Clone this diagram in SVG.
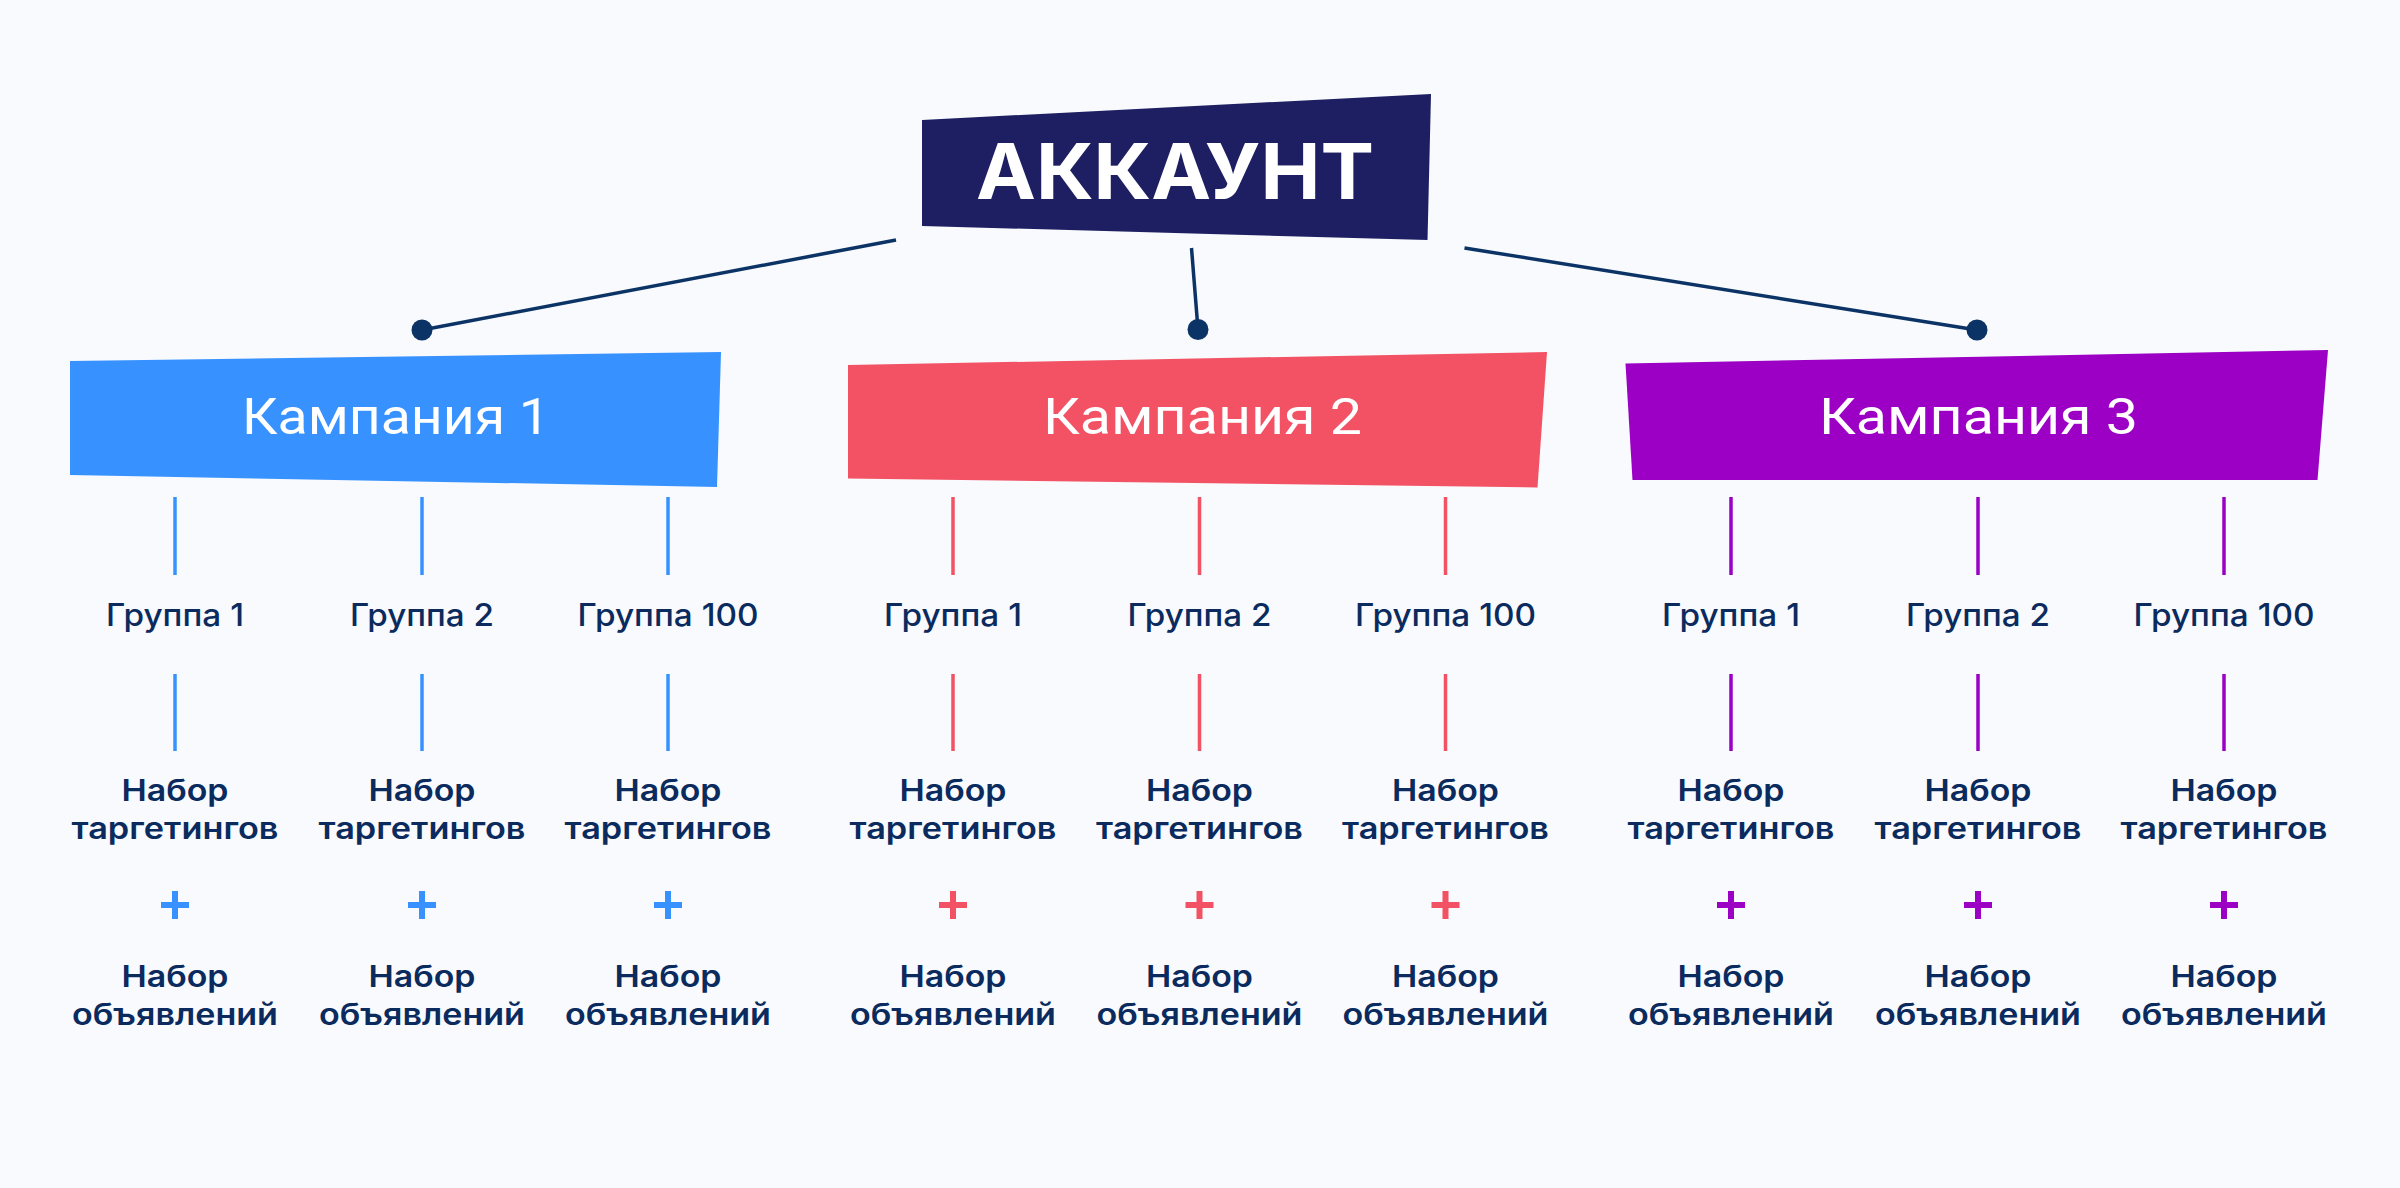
<svg xmlns="http://www.w3.org/2000/svg" width="2400" height="1188" viewBox="0 0 2400 1188">
<defs>
<style>
.bg{fill:#F8FAFD}
.acc{fill:#1E1F62}
.acc-t{font-family:Inter,"Open Sans","Liberation Sans",sans-serif;font-weight:700;font-size:77px;fill:#FFFFFF;text-anchor:middle}
.camp-t{font-family:Roboto,"Liberation Sans",sans-serif;font-weight:400;font-size:50px;fill:#FFFFFF;text-anchor:middle}
.grp{font-family:Inter,"Open Sans","Liberation Sans",sans-serif;font-weight:500;font-size:31px;fill:#0B2B5E;text-anchor:middle}
.set{font-family:Inter,"Open Sans","Liberation Sans",sans-serif;font-weight:600;font-size:30px;fill:#0B2B5E;text-anchor:middle}
.link{stroke:#0C3366;stroke-width:3.5;fill:none}
.dot{fill:#0C3366}
.vb{stroke:#3792FF;stroke-width:3.5}
.vr{stroke:#F25263;stroke-width:3.5}
.vp{stroke:#9B00C4;stroke-width:3.5}
.pb{stroke:#3792FF;stroke-width:6;fill:none}
.pr{stroke:#F25263;stroke-width:6;fill:none}
.pp{stroke:#9B00C4;stroke-width:6;fill:none}
</style>
</defs>
<rect class="bg" x="0" y="0" width="2400" height="1188"/>

<g id="account">
<polygon class="acc" points="922,120 1431,94 1427.5,240 922,226"/>
<text class="acc-t" x="1175" y="199" textLength="398" lengthAdjust="spacingAndGlyphs">АККАУНТ</text>
</g>

<g id="campaign-1">
<polygon fill="#3792FF" points="70,361 721,352 717,487 70,475"/>
<text class="camp-t" x="396" y="434.3" textLength="308" lengthAdjust="spacingAndGlyphs">Кампания 1</text>
</g>
<g id="campaign-2">
<polygon fill="#F25263" points="848,365 1547,352 1537.5,487.5 848,478.5"/>
<text class="camp-t" x="1202.5" y="434.3" textLength="319" lengthAdjust="spacingAndGlyphs">Кампания 2</text>
</g>
<g id="campaign-3">
<polygon fill="#9B00C4" points="1625.5,363.5 2328,350 2317.5,480 1632.5,480"/>
<text class="camp-t" x="1978.5" y="434.3" textLength="319" lengthAdjust="spacingAndGlyphs">Кампания 3</text>
</g>

<g id="connectors">
<line class="link" x1="896" y1="240" x2="422" y2="330"/>
<circle class="dot" cx="422" cy="330" r="10.5"/>
<line class="link" x1="1191.5" y1="248" x2="1198" y2="329.5"/>
<circle class="dot" cx="1198" cy="329.5" r="10.5"/>
<line class="link" x1="1464.5" y1="248" x2="1977" y2="330"/>
<circle class="dot" cx="1977" cy="330" r="10.5"/>

<g class="vb">
<line x1="175" y1="497" x2="175" y2="575"/><line x1="175" y1="674" x2="175" y2="751"/>
<line x1="422" y1="497" x2="422" y2="575"/><line x1="422" y1="674" x2="422" y2="751"/>
<line x1="668" y1="497" x2="668" y2="575"/><line x1="668" y1="674" x2="668" y2="751"/>
</g>
<g class="vr">
<line x1="953" y1="497" x2="953" y2="575"/><line x1="953" y1="674" x2="953" y2="751"/>
<line x1="1199.5" y1="497" x2="1199.5" y2="575"/><line x1="1199.5" y1="674" x2="1199.5" y2="751"/>
<line x1="1445.5" y1="497" x2="1445.5" y2="575"/><line x1="1445.5" y1="674" x2="1445.5" y2="751"/>
</g>
<g class="vp">
<line x1="1731" y1="497" x2="1731" y2="575"/><line x1="1731" y1="674" x2="1731" y2="751"/>
<line x1="1978" y1="497" x2="1978" y2="575"/><line x1="1978" y1="674" x2="1978" y2="751"/>
<line x1="2224" y1="497" x2="2224" y2="575"/><line x1="2224" y1="674" x2="2224" y2="751"/>
</g>
</g>

<g id="group-1-1"><text class="grp" x="175" y="626.4" textLength="138" lengthAdjust="spacingAndGlyphs">Группа 1</text></g>
<g id="group-1-2"><text class="grp" x="422" y="626.4" textLength="144" lengthAdjust="spacingAndGlyphs">Группа 2</text></g>
<g id="group-1-100"><text class="grp" x="668" y="626.4" textLength="181" lengthAdjust="spacingAndGlyphs">Группа 100</text></g>
<g id="group-2-1"><text class="grp" x="953" y="626.4" textLength="138" lengthAdjust="spacingAndGlyphs">Группа 1</text></g>
<g id="group-2-2"><text class="grp" x="1199.5" y="626.4" textLength="144" lengthAdjust="spacingAndGlyphs">Группа 2</text></g>
<g id="group-2-100"><text class="grp" x="1445.5" y="626.4" textLength="181" lengthAdjust="spacingAndGlyphs">Группа 100</text></g>
<g id="group-3-1"><text class="grp" x="1731" y="626.4" textLength="138" lengthAdjust="spacingAndGlyphs">Группа 1</text></g>
<g id="group-3-2"><text class="grp" x="1978" y="626.4" textLength="144" lengthAdjust="spacingAndGlyphs">Группа 2</text></g>
<g id="group-3-100"><text class="grp" x="2224" y="626.4" textLength="181" lengthAdjust="spacingAndGlyphs">Группа 100</text></g>

<g id="set-1-1">
<text class="set" x="175" y="801.4" textLength="107" lengthAdjust="spacingAndGlyphs">Набор</text>
<text class="set" x="175" y="838.9" textLength="207" lengthAdjust="spacingAndGlyphs">таргетингов</text>
<path class="pb" d="M161,905 h28 M175,891 v28"/>
<text class="set" x="175" y="987.1" textLength="107" lengthAdjust="spacingAndGlyphs">Набор</text>
<text class="set" x="175" y="1024.6" textLength="206" lengthAdjust="spacingAndGlyphs">объявлений</text>
</g>
<g id="set-1-2">
<text class="set" x="422" y="801.4" textLength="107" lengthAdjust="spacingAndGlyphs">Набор</text>
<text class="set" x="422" y="838.9" textLength="207" lengthAdjust="spacingAndGlyphs">таргетингов</text>
<path class="pb" d="M408,905 h28 M422,891 v28"/>
<text class="set" x="422" y="987.1" textLength="107" lengthAdjust="spacingAndGlyphs">Набор</text>
<text class="set" x="422" y="1024.6" textLength="206" lengthAdjust="spacingAndGlyphs">объявлений</text>
</g>
<g id="set-1-100">
<text class="set" x="668" y="801.4" textLength="107" lengthAdjust="spacingAndGlyphs">Набор</text>
<text class="set" x="668" y="838.9" textLength="207" lengthAdjust="spacingAndGlyphs">таргетингов</text>
<path class="pb" d="M654,905 h28 M668,891 v28"/>
<text class="set" x="668" y="987.1" textLength="107" lengthAdjust="spacingAndGlyphs">Набор</text>
<text class="set" x="668" y="1024.6" textLength="206" lengthAdjust="spacingAndGlyphs">объявлений</text>
</g>
<g id="set-2-1">
<text class="set" x="953" y="801.4" textLength="107" lengthAdjust="spacingAndGlyphs">Набор</text>
<text class="set" x="953" y="838.9" textLength="207" lengthAdjust="spacingAndGlyphs">таргетингов</text>
<path class="pr" d="M939,905 h28 M953,891 v28"/>
<text class="set" x="953" y="987.1" textLength="107" lengthAdjust="spacingAndGlyphs">Набор</text>
<text class="set" x="953" y="1024.6" textLength="206" lengthAdjust="spacingAndGlyphs">объявлений</text>
</g>
<g id="set-2-2">
<text class="set" x="1199.5" y="801.4" textLength="107" lengthAdjust="spacingAndGlyphs">Набор</text>
<text class="set" x="1199.5" y="838.9" textLength="207" lengthAdjust="spacingAndGlyphs">таргетингов</text>
<path class="pr" d="M1185.5,905 h28 M1199.5,891 v28"/>
<text class="set" x="1199.5" y="987.1" textLength="107" lengthAdjust="spacingAndGlyphs">Набор</text>
<text class="set" x="1199.5" y="1024.6" textLength="206" lengthAdjust="spacingAndGlyphs">объявлений</text>
</g>
<g id="set-2-100">
<text class="set" x="1445.5" y="801.4" textLength="107" lengthAdjust="spacingAndGlyphs">Набор</text>
<text class="set" x="1445.5" y="838.9" textLength="207" lengthAdjust="spacingAndGlyphs">таргетингов</text>
<path class="pr" d="M1431.5,905 h28 M1445.5,891 v28"/>
<text class="set" x="1445.5" y="987.1" textLength="107" lengthAdjust="spacingAndGlyphs">Набор</text>
<text class="set" x="1445.5" y="1024.6" textLength="206" lengthAdjust="spacingAndGlyphs">объявлений</text>
</g>
<g id="set-3-1">
<text class="set" x="1731" y="801.4" textLength="107" lengthAdjust="spacingAndGlyphs">Набор</text>
<text class="set" x="1731" y="838.9" textLength="207" lengthAdjust="spacingAndGlyphs">таргетингов</text>
<path class="pp" d="M1717,905 h28 M1731,891 v28"/>
<text class="set" x="1731" y="987.1" textLength="107" lengthAdjust="spacingAndGlyphs">Набор</text>
<text class="set" x="1731" y="1024.6" textLength="206" lengthAdjust="spacingAndGlyphs">объявлений</text>
</g>
<g id="set-3-2">
<text class="set" x="1978" y="801.4" textLength="107" lengthAdjust="spacingAndGlyphs">Набор</text>
<text class="set" x="1978" y="838.9" textLength="207" lengthAdjust="spacingAndGlyphs">таргетингов</text>
<path class="pp" d="M1964,905 h28 M1978,891 v28"/>
<text class="set" x="1978" y="987.1" textLength="107" lengthAdjust="spacingAndGlyphs">Набор</text>
<text class="set" x="1978" y="1024.6" textLength="206" lengthAdjust="spacingAndGlyphs">объявлений</text>
</g>
<g id="set-3-100">
<text class="set" x="2224" y="801.4" textLength="107" lengthAdjust="spacingAndGlyphs">Набор</text>
<text class="set" x="2224" y="838.9" textLength="207" lengthAdjust="spacingAndGlyphs">таргетингов</text>
<path class="pp" d="M2210,905 h28 M2224,891 v28"/>
<text class="set" x="2224" y="987.1" textLength="107" lengthAdjust="spacingAndGlyphs">Набор</text>
<text class="set" x="2224" y="1024.6" textLength="206" lengthAdjust="spacingAndGlyphs">объявлений</text>
</g>
</svg>
